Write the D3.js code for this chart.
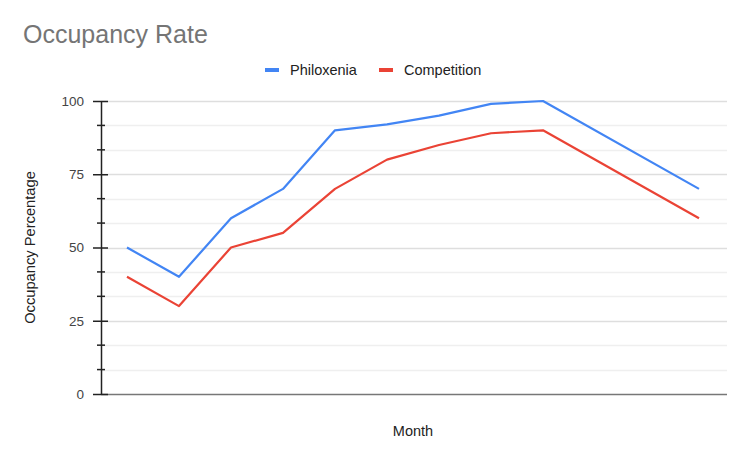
<!DOCTYPE html>
<html><head><meta charset="utf-8">
<script src="https://cdn.jsdelivr.net/npm/d3@7"></script>
<style>body{margin:0;background:#fff}svg{display:block;font-family:Arial,"Liberation Sans",sans-serif}</style>
</head><body><svg id="c" width="750" height="463"></svg>
<script>
const months = ["Jan","Feb","Mar","Apr","May","Jun","Jul","Aug","Sep","Oct","Nov","Dec"];
const philoxenia = [50, 40, 60, 70, 90, 92, 95, 99, 100, null, null, 70];
const competition = [40, 30, 50, 55, 70, 80, 85, 89, 90, null, null, 60];
const seriesNames = ["Philoxenia", "Competition"];
const seriesColors = ["#4285F4", "#EA4335"];
const yTicks = [0, 25, 50, 75, 100];

const svg = d3.select("#c");
const pLeft = 101, pRight = 725, pTop = 101, pBottom = 394;
const x = d3.scaleBand().domain(months).range([pLeft, pRight]);
const y = d3.scaleLinear().domain([0, 100]).range([pBottom, pTop]);

// minor grid
const minor = [];
for (let i = 0; i < yTicks.length - 1; i++) {
  const a = yTicks[i], b = yTicks[i + 1];
  minor.push(a + (b - a) / 3, a + 2 * (b - a) / 3);
}
svg.append("g").selectAll("line").data(minor).join("line")
  .attr("x1", pLeft).attr("x2", pRight + 2)
  .attr("y1", d => Math.round(y(d)) + 0.5).attr("y2", d => Math.round(y(d)) + 0.5)
  .attr("stroke", "#efefef").attr("stroke-width", 1.5);
svg.append("g").selectAll("line").data(yTicks.filter(d => d > 0)).join("line")
  .attr("x1", pLeft).attr("x2", pRight + 2)
  .attr("y1", d => Math.round(y(d)) + 0.5).attr("y2", d => Math.round(y(d)) + 0.5)
  .attr("stroke", "#dedede").attr("stroke-width", 1.5);
// baseline
svg.append("line").attr("x1", pLeft).attr("x2", pRight + 2)
  .attr("y1", y(0) + 0.5).attr("y2", y(0) + 0.5)
  .attr("stroke", "#777").attr("stroke-width", 1.5);

// y axis
const yAxis = d3.axisLeft(y).tickValues(yTicks).tickSize(8).tickPadding(6).tickSizeOuter(0);
const gy = svg.append("g").attr("transform", `translate(${pLeft},0)`).call(yAxis);
gy.select(".domain").attr("stroke", "#222").attr("stroke-width", 1.5);
gy.selectAll(".tick line").attr("stroke", "#222").attr("stroke-width", 1.5).attr("x2", -8).attr("x1", 7);
gy.selectAll(".tick text").attr("font-size", 13.5).attr("fill", "#444").attr("font-family", "Arial, 'Liberation Sans', sans-serif").attr("x", -17);
svg.append("g").selectAll("line").data(minor).join("line")
  .attr("x1", pLeft - 4).attr("x2", pLeft + 4)
  .attr("y1", d => y(d)).attr("y2", d => y(d))
  .attr("stroke", "#222").attr("stroke-width", 1.5);

// lines
const line = d3.line().x(d => x(d.m) + x.bandwidth() / 2).y(d => y(d.v));
[philoxenia, competition].forEach((vals, k) => {
  const pts = vals.map((v, i) => ({ m: months[i], v })).filter(d => d.v !== null);
  svg.append("path").attr("d", line(pts)).attr("fill", "none")
    .attr("stroke", seriesColors[k]).attr("stroke-width", 2.2)
    .attr("stroke-linejoin", "round");
});

// title
svg.append("text").attr("x", 23).attr("y", 43).text("Occupancy Rate")
  .attr("font-size", 25).attr("fill", "#757575");

// legend
const legX = [265, 379];
seriesNames.forEach((n, k) => {
  svg.append("rect").attr("x", legX[k]).attr("y", 68).attr("width", 14).attr("height", 4)
    .attr("fill", seriesColors[k]);
  svg.append("text").attr("x", legX[k] + 25).attr("y", 75).text(n)
    .attr("font-size", 14.5).attr("fill", "#222");
});

// axis titles
svg.append("text").attr("x", pLeft + (pRight - pLeft) / 2).attr("y", 436)
  .attr("text-anchor", "middle").text("Month").attr("font-size", 14.5).attr("fill", "#222");
svg.append("text").attr("transform", `translate(35,${(pTop + pBottom) / 2}) rotate(-90)`)
  .attr("text-anchor", "middle").text("Occupancy Percentage").attr("font-size", 14.7).attr("fill", "#222");
</script></body></html>
